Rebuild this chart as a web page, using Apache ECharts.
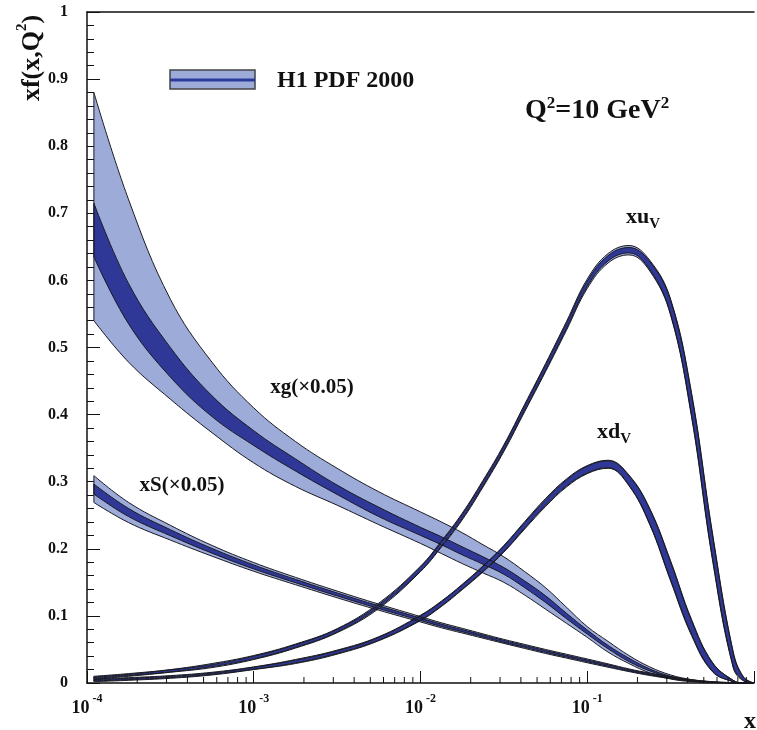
<!DOCTYPE html>
<html><head><meta charset="utf-8">
<script src="https://cdn.jsdelivr.net/npm/echarts@6/dist/echarts.min.js"></script>
<style>html,body{margin:0;padding:0;background:#fff}#c{width:757px;height:730px}</style>
</head><body><div id="c"></div>
<script>
// x sample points (log-spaced)
const xValues = [1.1e-4, 1.778e-4, 3.162e-4, 5.623e-4, 1e-3, 1.778e-3, 3.162e-3, 5.623e-3, 0.01, 0.01334, 0.01778, 0.02371, 0.03162, 0.04217, 0.05623, 0.07499, 0.1, 0.1334, 0.1778, 0.2371, 0.3162, 0.4217, 0.5623, 0.7499, 0.866, 1.0];

// xg (x0.05) bands
const xgOuterHi = [0.88, 0.72, 0.572, 0.478, 0.41, 0.36, 0.32, 0.285, 0.255, 0.24, 0.224, 0.206, 0.188, 0.166, 0.142, 0.113, 0.084, 0.062, 0.041, 0.024, 0.012, 0.005, 0.0015, 0, 0, 0];
const xgInnerHi = [0.715, 0.595, 0.5, 0.428, 0.376, 0.334, 0.295, 0.262, 0.232, 0.218, 0.203, 0.188, 0.172, 0.152, 0.13, 0.104, 0.079, 0.056, 0.037, 0.021, 0.01, 0.004, 0.001, 0, 0, 0];
const xgInnerLo = [0.635, 0.535, 0.456, 0.397, 0.354, 0.316, 0.281, 0.248, 0.22, 0.206, 0.191, 0.177, 0.162, 0.142, 0.12, 0.096, 0.073, 0.051, 0.032, 0.018, 0.008, 0.003, 0.0005, 0, 0, 0];
const xgOuterLo = [0.54, 0.478, 0.423, 0.373, 0.328, 0.293, 0.265, 0.236, 0.208, 0.193, 0.178, 0.164, 0.15, 0.131, 0.11, 0.089, 0.068, 0.046, 0.029, 0.015, 0.006, 0.002, 0, 0, 0, 0];

// xS (x0.05): central value and half-widths
const xSCenter = [0.289, 0.254, 0.224, 0.197, 0.173, 0.152, 0.132, 0.113, 0.095, 0.086, 0.078, 0.07, 0.062, 0.0545, 0.047, 0.04, 0.033, 0.026, 0.019, 0.013, 0.008, 0.004, 0.0015, 0.0003, 0, 0];
const xSOuterErr = [0.02, 0.015, 0.011, 0.008, 0.0065, 0.0055, 0.005, 0.0045, 0.004, 0.0037, 0.0035, 0.0032, 0.003, 0.003, 0.003, 0.0029, 0.0028, 0.0025, 0.002, 0.0018, 0.0015, 0.001, 0.0005, 0.0002, 0, 0];
const xSInnerErr = [0.0075, 0.006, 0.0045, 0.0035, 0.003, 0.0025, 0.0022, 0.002, 0.0018, 0.0017, 0.0016, 0.0015, 0.0015, 0.0014, 0.0014, 0.0013, 0.0013, 0.0012, 0.001, 0.0009, 0.0007, 0.0005, 0.0003, 0.0001, 0, 0];

// xuV
const xuVCenter = [0.008, 0.012, 0.018, 0.026, 0.038, 0.055, 0.078, 0.115, 0.17, 0.207, 0.248, 0.297, 0.35, 0.41, 0.47, 0.532, 0.595, 0.633, 0.645, 0.622, 0.56, 0.415, 0.205, 0.035, 0.006, 0];
const xuVOuterErr = [0.002, 0.002, 0.002, 0.003, 0.003, 0.003, 0.003, 0.004, 0.004, 0.0045, 0.005, 0.005, 0.005, 0.0055, 0.006, 0.0065, 0.007, 0.007, 0.007, 0.008, 0.012, 0.018, 0.02, 0.012, 0.003, 0];
const xuVInnerErr = [0.001, 0.001, 0.0015, 0.0015, 0.002, 0.002, 0.002, 0.002, 0.003, 0.003, 0.003, 0.003, 0.003, 0.0035, 0.004, 0.004, 0.004, 0.004, 0.004, 0.006, 0.01, 0.015, 0.017, 0.01, 0.002, 0];

// xdV
const xdVCenter = [0.004, 0.006, 0.009, 0.014, 0.022, 0.032, 0.046, 0.066, 0.097, 0.118, 0.143, 0.17, 0.2, 0.235, 0.269, 0.298, 0.318, 0.326, 0.302, 0.248, 0.167, 0.083, 0.024, 0.003, 0, 0];
const xdVOuterErr = [0.002, 0.002, 0.002, 0.002, 0.002, 0.003, 0.003, 0.003, 0.004, 0.004, 0.004, 0.0045, 0.005, 0.0055, 0.006, 0.006, 0.006, 0.006, 0.008, 0.012, 0.015, 0.012, 0.007, 0.001, 0, 0];
const xdVInnerErr = [0.001, 0.001, 0.001, 0.001, 0.0015, 0.002, 0.002, 0.002, 0.003, 0.003, 0.003, 0.0035, 0.004, 0.004, 0.004, 0.0045, 0.005, 0.005, 0.007, 0.011, 0.013, 0.01, 0.006, 0.001, 0, 0];

// axis ticks
const xMajorExponents = [-4, -3, -2, -1];
const xMinorTicks = [2e-4,3e-4,4e-4,5e-4,6e-4,7e-4,8e-4,9e-4, 2e-3,3e-3,4e-3,5e-3,6e-3,7e-3,8e-3,9e-3, 2e-2,3e-2,4e-2,5e-2,6e-2,7e-2,8e-2,9e-2, 0.2,0.3,0.4,0.5,0.6,0.7,0.8,0.9];
const yTickLabels = ['0','0.1','0.2','0.3','0.4','0.5','0.6','0.7','0.8','0.9','1'];

const SERIF = '"Liberation Serif","DejaVu Serif",serif';
const LIGHT = '#9dabd9', DARK = '#2f3896', EDGE = '#1a1a22', INK = '#111';

function lohi(c, e, s) { return c.map((v, i) => Math.max(0, v + s * e[i])); }

// data stored as [y, x] so that the stacked dimension is y
function band(key, lo, hi, fill) {
  return [
    {type: 'line', stack: key, data: xValues.map((x, i) => [lo[i], x]), encode: {x: 1, y: 0},
     symbol: 'none', smooth: 0.4, lineStyle: {color: EDGE, width: 1}, silent: true},
    {type: 'line', stack: key, data: xValues.map((x, i) => [hi[i] - lo[i], x]), encode: {x: 1, y: 0},
     symbol: 'none', smooth: 0.4, lineStyle: {color: EDGE, width: 1}, areaStyle: {color: fill, opacity: 1}, silent: true},
    {type: 'line', data: [[xValues[0], lo[0]], [xValues[0], hi[0]]], symbol: 'none',
     lineStyle: {color: EDGE, width: 1}, silent: true}
  ];
}

const series = [].concat(
  band('gO', xgOuterLo, xgOuterHi, LIGHT),
  band('gI', xgInnerLo, xgInnerHi, DARK),
  band('sO', lohi(xSCenter, xSOuterErr, -1), lohi(xSCenter, xSOuterErr, 1), LIGHT),
  band('sI', lohi(xSCenter, xSInnerErr, -1), lohi(xSCenter, xSInnerErr, 1), DARK),
  band('dO', lohi(xdVCenter, xdVOuterErr, -1), lohi(xdVCenter, xdVOuterErr, 1), LIGHT),
  band('dI', lohi(xdVCenter, xdVInnerErr, -1), lohi(xdVCenter, xdVInnerErr, 1), DARK),
  band('uO', lohi(xuVCenter, xuVOuterErr, -1), lohi(xuVCenter, xuVOuterErr, 1), LIGHT),
  band('uI', lohi(xuVCenter, xuVInnerErr, -1), lohi(xuVCenter, xuVInnerErr, 1), DARK)
);

// minor log ticks on the x axis, placed through the axis scale
series.push({
  type: 'custom', silent: true, z: 5,
  data: xMinorTicks.map(v => [v, 0]),
  renderItem: function (params, api) {
    const p = api.coord([api.value(0), 0]);
    return {type: 'line', shape: {x1: p[0], y1: p[1], x2: p[0], y2: p[1] - 6}, style: {stroke: INK, lineWidth: 1}};
  }
});

const chart = echarts.init(document.getElementById('c'), null, {renderer: 'canvas'});
chart.setOption({
  animation: false,
  backgroundColor: '#fff',
  grid: {left: 87, right: 0, top: 12, bottom: 47},
  xAxis: [
    {type: 'log', logBase: 10, min: 1e-4, max: 1, position: 'bottom',
     axisLine: {lineStyle: {color: INK, width: 1.5}},
     axisTick: {inside: true, length: 12, lineStyle: {color: INK, width: 1}},
     splitLine: {show: false}, minorTick: {show: false},
     axisLabel: {margin: 10, color: INK,
       formatter: function (v) {
         const e = Math.round(Math.log10(v));
         return xMajorExponents.indexOf(e) >= 0 ? '{b|10}{s| ' + e + '}' : '';
       },
       rich: {
         b: {fontFamily: SERIF, fontWeight: 'bold', fontSize: 18, lineHeight: 24, verticalAlign: 'bottom', color: INK},
         s: {fontFamily: SERIF, fontWeight: 'bold', fontSize: 12, lineHeight: 12, verticalAlign: 'top', color: INK}
       }}},
    {type: 'log', logBase: 10, min: 1e-4, max: 1, position: 'top',
     axisLine: {lineStyle: {color: INK, width: 1.5}}, axisTick: {show: false}, axisLabel: {show: false}, splitLine: {show: false}}
  ],
  yAxis: {type: 'value', min: 0, max: 1, interval: 0.1,
    axisLine: {show: true, lineStyle: {color: INK, width: 1.5}},
    axisTick: {inside: true, length: 13, lineStyle: {color: INK}},
    minorTick: {show: true, splitNumber: 5, length: 7, lineStyle: {color: INK}},
    splitLine: {show: false},
    axisLabel: {margin: 19, color: INK, fontFamily: SERIF, fontWeight: 'bold', fontSize: 16,
      formatter: function (v) { return yTickLabels[Math.round(v * 10)]; }}},
  series: series,
  graphic: [
    {type: 'rect', shape: {x: 170, y: 70, width: 85, height: 19}, style: {fill: LIGHT, stroke: '#444', lineWidth: 1.5}},
    {type: 'line', shape: {x1: 170, y1: 80, x2: 255, y2: 80}, style: {stroke: '#2b3a9b', lineWidth: 3}},
    {type: 'text', x: 277, y: 81, style: {text: 'H1 PDF 2000', font: 'bold 24px ' + SERIF, fill: INK, align: 'left', verticalAlign: 'middle'}},
    {type: 'text', x: 525, y: 125, style: {text: '{a|Q}{s|2}{a|=10 GeV}{s|2}', align: 'left', verticalAlign: 'bottom',
      rich: {a: {font: 'bold 28px ' + SERIF, fill: INK, lineHeight: 30, verticalAlign: 'bottom'},
             s: {font: 'bold 17px ' + SERIF, fill: INK, lineHeight: 30, verticalAlign: 'top'}}}},
    {type: 'text', x: 312, y: 388, style: {text: 'xg(\u00d70.05)', font: 'bold 21px ' + SERIF, fill: INK, align: 'center', verticalAlign: 'middle'}},
    {type: 'text', x: 182, y: 486, style: {text: 'xS(\u00d70.05)', font: 'bold 21px ' + SERIF, fill: INK, align: 'center', verticalAlign: 'middle'}},
    {type: 'text', x: 626, y: 232, style: {text: '{a|xu}{v|V}', align: 'left', verticalAlign: 'bottom',
      rich: {a: {font: 'bold 22px ' + SERIF, fill: INK, lineHeight: 26, verticalAlign: 'top'},
             v: {font: 'bold 15px ' + SERIF, fill: INK, lineHeight: 26, verticalAlign: 'bottom'}}}},
    {type: 'text', x: 597, y: 447, style: {text: '{a|xd}{v|V}', align: 'left', verticalAlign: 'bottom',
      rich: {a: {font: 'bold 22px ' + SERIF, fill: INK, lineHeight: 26, verticalAlign: 'top'},
             v: {font: 'bold 15px ' + SERIF, fill: INK, lineHeight: 26, verticalAlign: 'bottom'}}}},
    {type: 'text', x: 30, y: 58, rotation: Math.PI / 2, style: {text: '{a|xf(x,Q}{s|2}{a|)}', align: 'center', verticalAlign: 'middle',
      rich: {a: {font: 'bold 26px ' + SERIF, fill: INK, lineHeight: 30, verticalAlign: 'bottom'},
             s: {font: 'bold 15px ' + SERIF, fill: INK, lineHeight: 30, verticalAlign: 'top'}}}},
    {type: 'text', x: 750, y: 722, style: {text: 'x', font: 'bold 24px ' + SERIF, fill: INK, align: 'center', verticalAlign: 'middle'}}
  ]
});
</script></body></html>
